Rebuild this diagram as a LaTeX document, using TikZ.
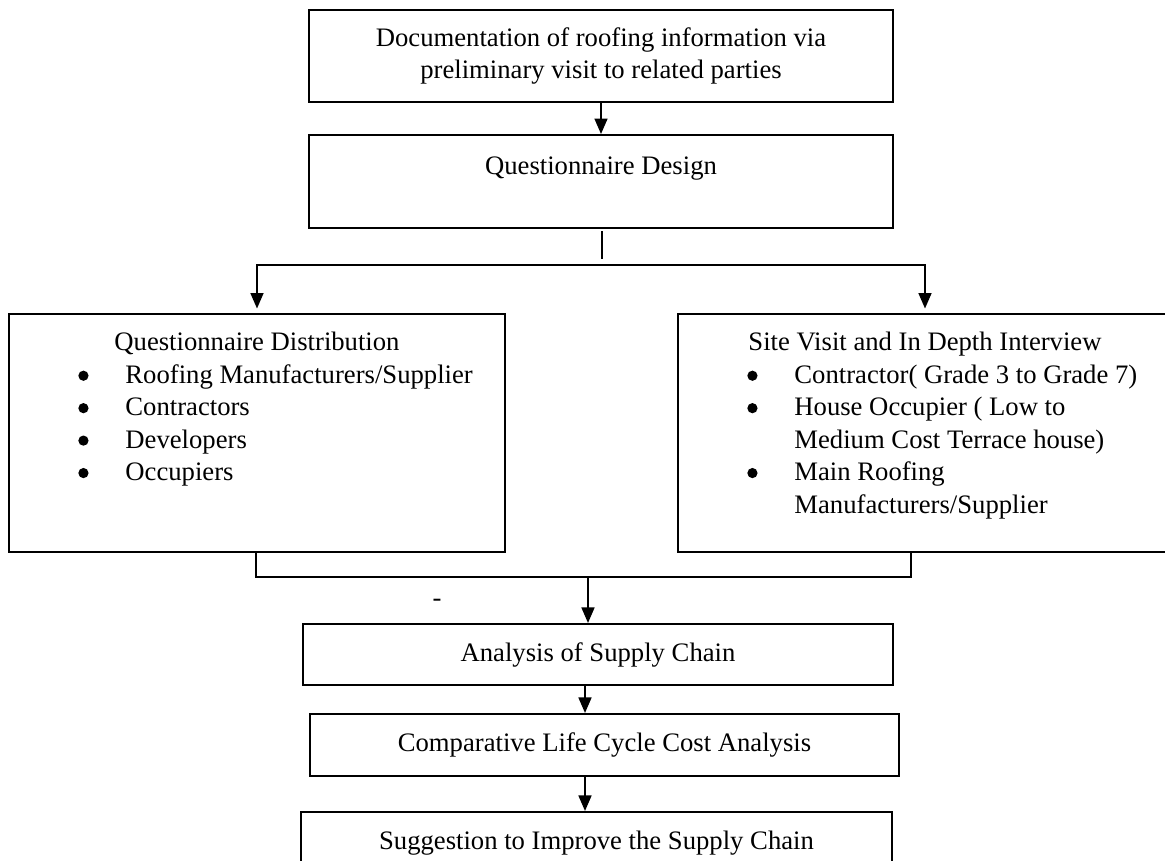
\documentclass[tikz,border=0pt]{standalone}
\usepackage{fontspec}
\setmainfont{Liberation Serif}
\usetikzlibrary{arrows.meta, positioning}
\tikzstyle{block} = [draw, rectangle, line width=0.9pt, align=center, inner sep=0pt, font=\fontsize{12}{14.6}\selectfont]
\tikzstyle{items} = [align=flush left, inner sep=0pt, anchor=north, font=\fontsize{12}{14.6}\selectfont]
\tikzstyle{wire} = [-{Triangle[length=7pt,width=5.8pt]}, line width=0.9pt]
\tikzstyle{link} = [line width=0.9pt]
\newcommand{\dotmark}{\tikz[baseline=-3.4pt]\fill (0,0) circle (2.3pt);}
\newcommand{\blt}[1]{\hspace*{33.5pt}\makebox[0pt]{\dotmark}\hspace*{18.9pt}#1}
\newcommand{\cont}[1]{\hspace*{52.4pt}#1}

\begin{document}
\begin{tikzpicture}[x=0.45pt, y=-0.45pt]
    \useasboundingbox (0,0) rectangle (1165,861);
    \clip (0,0) rectangle (1165,861);
    \node[block, minimum width=262.8pt, minimum height=41.4pt] (doc) at (601,56) {Documentation of roofing information via\\preliminary visit to related parties};
    \node[block, minimum width=262.8pt, minimum height=41.85pt, below of=doc, node distance=56.5pt] (design) {Questionnaire Design\\ \mbox{}};
    \node[block, minimum width=223.2pt, minimum height=107.1pt] (qdist) at (257,433) {};
    \node[items, text width=223.2pt] (qdistList) at ([yshift=-8.5pt]qdist.north) {\makebox[223.2pt]{Questionnaire Distribution}\\
      \blt{Roofing Manufacturers/Supplier}\\ \blt{Contractors}\\ \blt{Developers}\\ \blt{Occupiers}};
    \node[block, minimum width=222.3pt, minimum height=107.1pt] (site) at (925,433) {};
    \node[items, text width=222.3pt] (siteList) at ([yshift=-8.5pt]site.north) {\makebox[222.3pt]{Site Visit and In Depth Interview}\\
      \blt{Contractor( Grade 3 to Grade 7)}\\ \blt{House Occupier ( Low to}\\ \cont{Medium Cost Terrace house)}\\
      \blt{Main Roofing}\\ \cont{Manufacturers/Supplier}};
    \node[block, minimum width=265.5pt, minimum height=27.45pt] (ana) at (598,654.5) {Analysis of Supply Chain};
    \node[block, minimum width=265.05pt, minimum height=27.9pt] (cmp) at (604.5,745) {Comparative Life Cycle Cost Analysis};
    \node[block, minimum width=265.95pt, minimum height=27.9pt] (sug) at (596.5,843) {Suggestion to Improve the Supply Chain};
    \node[font=\fontsize{12}{14.6}\selectfont] (stray) at (437,603) {-};
    \coordinate (split) at (602,265);
    \coordinate (mergeL) at (256,577);
    \coordinate (mergeR) at (911,577);
    \coordinate (mergeC) at (588,577);
    \coordinate (spine) at (585,0);
    \draw[wire] (doc) -- (design);
    \draw[link, line width=0.6pt] (split |- design.south) ++(0,2) -- ([yshift=2.7pt]split);
    \draw[wire, shorten >=2pt] (split) -| (qdist);
    \draw[wire, shorten >=2pt] (split) -| (site);
    \draw[link] (qdist.south -| mergeL) -- (mergeL) -- (mergeR) -- (site.south -| mergeR);
    \draw[wire] (mergeC) -- (ana.north -| mergeC);
    \draw[wire] (ana.south -| spine) -- (cmp.north -| spine);
    \draw[wire] (cmp.south -| spine) -- (sug.north -| spine);
  \end{tikzpicture}
\end{document}
